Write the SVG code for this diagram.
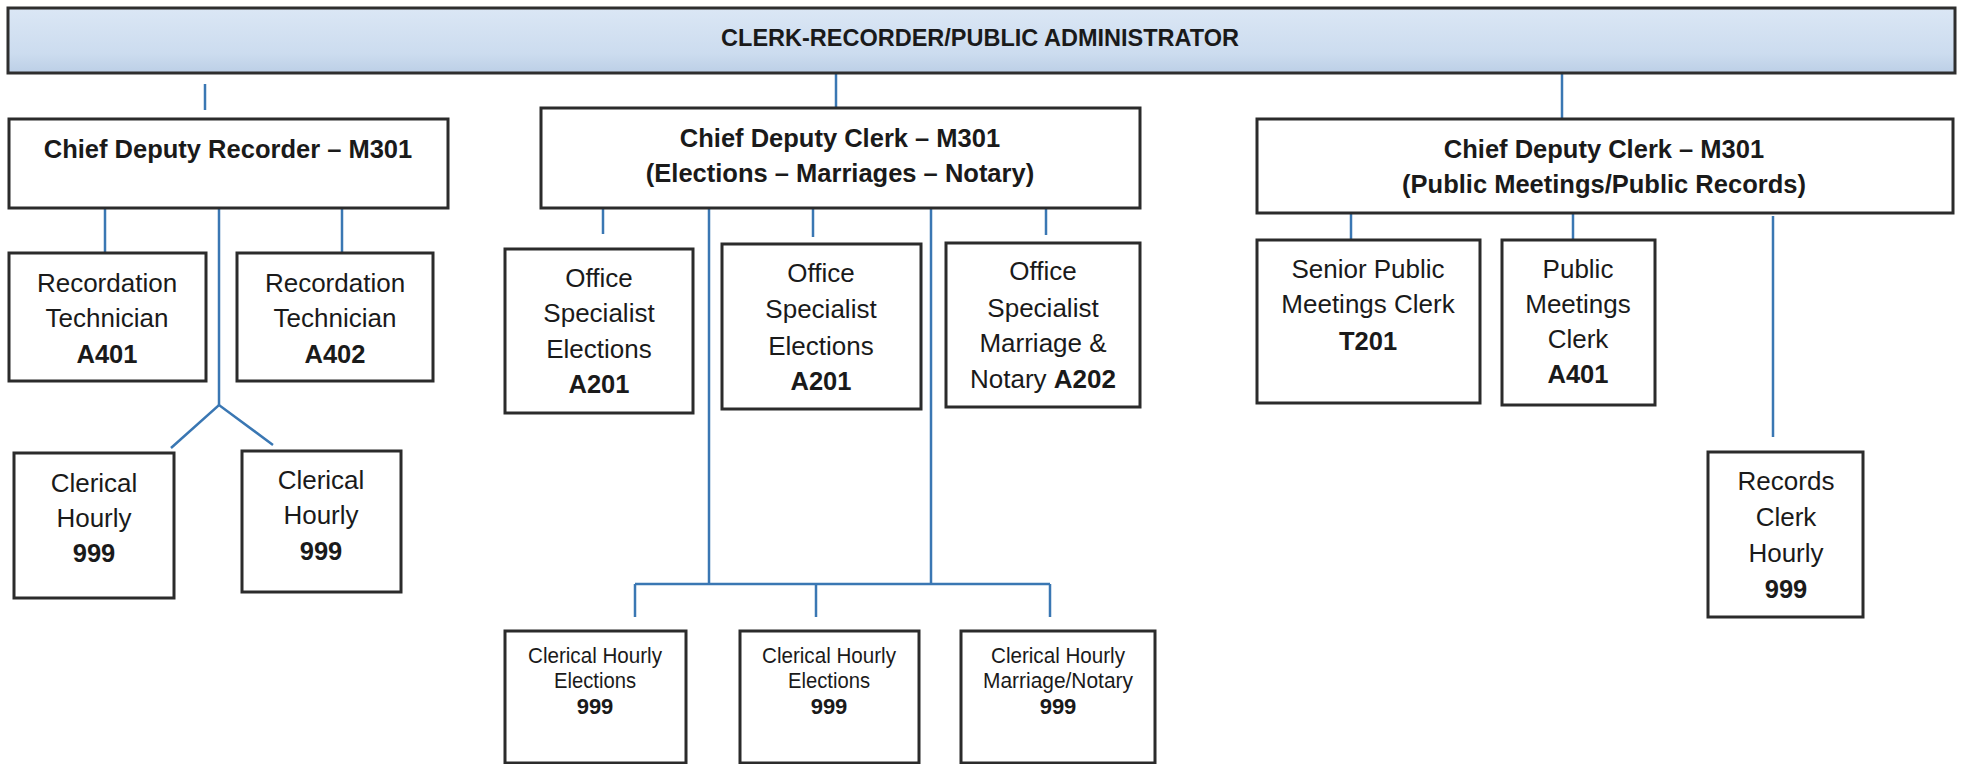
<svg xmlns="http://www.w3.org/2000/svg" width="1961" height="764" viewBox="0 0 1961 764">
  <style>
    .box { fill: #ffffff; stroke: #2b2b2b; stroke-width: 3; }
    .t { font-family: "Liberation Sans", Arial, sans-serif; fill: #1a1a1a; text-anchor: middle; }
    .r { font-size: 26px; }
    .b { font-size: 25.5px; font-weight: bold; }
    .s { font-size: 22px; }
    .sb { font-size: 22px; font-weight: bold; }
    .bold { font-weight: bold; }
    .title { font-size: 23.5px; font-weight: bold; }
    #connectors line, #connectors polyline { stroke: #3a77b3; stroke-width: 2.5; fill: none; }
  </style>
  <defs>
    <linearGradient id="bannerFill" x1="0" y1="0" x2="0" y2="1">
      <stop offset="0" stop-color="#dbe7f5"/>
      <stop offset="0.7" stop-color="#ccdcef"/>
      <stop offset="1" stop-color="#bccfe6"/>
    </linearGradient>
  </defs>

  <rect width="1961" height="764" fill="#ffffff"/>

  <!-- connectors -->
  <g id="connectors">
    <line x1="205" y1="84" x2="205" y2="110"/>
    <line x1="836" y1="73" x2="836" y2="108"/>
    <line x1="1562" y1="73" x2="1562" y2="119"/>

    <!-- recorder branch -->
    <line x1="105" y1="208" x2="105" y2="252"/>
    <line x1="342" y1="208" x2="342" y2="252"/>
    <line x1="219" y1="208" x2="219" y2="405"/>
    <polyline points="171,448 219,405 273,445"/>

    <!-- elections / marriages / notary branch -->
    <line x1="603" y1="208" x2="603" y2="234"/>
    <line x1="813" y1="208" x2="813" y2="237"/>
    <line x1="1046" y1="208" x2="1046" y2="235"/>
    <line x1="709" y1="208" x2="709" y2="584"/>
    <line x1="931" y1="208" x2="931" y2="584"/>
    <line x1="635" y1="584" x2="1050" y2="584"/>
    <line x1="635" y1="584" x2="635" y2="617"/>
    <line x1="816" y1="584" x2="816" y2="617"/>
    <line x1="1050" y1="584" x2="1050" y2="617"/>

    <!-- public meetings / records branch -->
    <line x1="1351" y1="213" x2="1351" y2="240"/>
    <line x1="1573" y1="213" x2="1573" y2="240"/>
    <line x1="1773" y1="216" x2="1773" y2="437"/>
  </g>

  <g id="head">
    <rect x="8" y="8" width="1947" height="65" fill="url(#bannerFill)" stroke="#2e2e2e" stroke-width="3"/>
    <text class="t title" x="980" y="46">CLERK-RECORDER/PUBLIC ADMINISTRATOR</text>
  </g>

  <g id="chief-deputy-recorder">
    <rect class="box" x="9" y="119" width="439" height="89"/>
    <text class="t b" x="228" y="158">Chief Deputy Recorder – M301</text>
  </g>

  <g id="recordation-tech-a401">
    <rect class="box" x="9" y="253" width="197" height="128"/>
    <text class="t r" x="107" y="292">Recordation</text>
    <text class="t r" x="107" y="327">Technician</text>
    <text class="t b" x="107" y="363">A401</text>
  </g>

  <g id="recordation-tech-a402">
    <rect class="box" x="237" y="253" width="196" height="128"/>
    <text class="t r" x="335" y="292">Recordation</text>
    <text class="t r" x="335" y="327">Technician</text>
    <text class="t b" x="335" y="363">A402</text>
  </g>

  <g id="recorder-clerical-1">
    <rect class="box" x="14" y="453" width="160" height="145"/>
    <text class="t r" x="94" y="492">Clerical</text>
    <text class="t r" x="94" y="527">Hourly</text>
    <text class="t b" x="94" y="562">999</text>
  </g>

  <g id="recorder-clerical-2">
    <rect class="box" x="242" y="451" width="159" height="141"/>
    <text class="t r" x="321" y="489">Clerical</text>
    <text class="t r" x="321" y="524">Hourly</text>
    <text class="t b" x="321" y="560">999</text>
  </g>

  <g id="chief-deputy-clerk-elections">
    <rect class="box" x="541" y="108" width="599" height="100"/>
    <text class="t b" x="840" y="147">Chief Deputy Clerk – M301</text>
    <text class="t b" x="840" y="182">(Elections – Marriages – Notary)</text>
  </g>

  <g id="office-specialist-1">
    <rect class="box" x="505" y="249" width="188" height="164"/>
    <text class="t r" x="599" y="287">Office</text>
    <text class="t r" x="599" y="322">Specialist</text>
    <text class="t r" x="599" y="358">Elections</text>
    <text class="t b" x="599" y="393">A201</text>
  </g>

  <g id="office-specialist-2">
    <rect class="box" x="722" y="244" width="199" height="165"/>
    <text class="t r" x="821" y="282">Office</text>
    <text class="t r" x="821" y="318">Specialist</text>
    <text class="t r" x="821" y="355">Elections</text>
    <text class="t b" x="821" y="390">A201</text>
  </g>

  <g id="office-specialist-3">
    <rect class="box" x="946" y="243" width="194" height="164"/>
    <text class="t r" x="1043" y="280">Office</text>
    <text class="t r" x="1043" y="317">Specialist</text>
    <text class="t r" x="1043" y="352">Marriage &amp;</text>
    <text class="t r" x="1043" y="388">Notary <tspan class="bold">A202</tspan></text>
  </g>

  <g id="clerical-elections-1">
    <rect class="box" x="505" y="631" width="181" height="132"/>
    <text class="t s" x="595" y="663" textLength="134" lengthAdjust="spacingAndGlyphs">Clerical Hourly</text>
    <text class="t s" x="595" y="688" textLength="82" lengthAdjust="spacingAndGlyphs">Elections</text>
    <text class="t sb" x="595" y="714">999</text>
  </g>

  <g id="clerical-elections-2">
    <rect class="box" x="740" y="631" width="179" height="132"/>
    <text class="t s" x="829" y="663" textLength="134" lengthAdjust="spacingAndGlyphs">Clerical Hourly</text>
    <text class="t s" x="829" y="688" textLength="82" lengthAdjust="spacingAndGlyphs">Elections</text>
    <text class="t sb" x="829" y="714">999</text>
  </g>

  <g id="clerical-marriage-notary">
    <rect class="box" x="961" y="631" width="194" height="132"/>
    <text class="t s" x="1058" y="663" textLength="134" lengthAdjust="spacingAndGlyphs">Clerical Hourly</text>
    <text class="t s" x="1058" y="688" textLength="150" lengthAdjust="spacingAndGlyphs">Marriage/Notary</text>
    <text class="t sb" x="1058" y="714">999</text>
  </g>

  <g id="chief-deputy-clerk-public">
    <rect class="box" x="1257" y="119" width="696" height="94"/>
    <text class="t b" x="1604" y="158">Chief Deputy Clerk – M301</text>
    <text class="t b" x="1604" y="193">(Public Meetings/Public Records)</text>
  </g>

  <g id="senior-public-meetings-clerk">
    <rect class="box" x="1257" y="240" width="223" height="163"/>
    <text class="t r" x="1368" y="278">Senior Public</text>
    <text class="t r" x="1368" y="313">Meetings Clerk</text>
    <text class="t b" x="1368" y="350">T201</text>
  </g>

  <g id="public-meetings-clerk">
    <rect class="box" x="1502" y="240" width="153" height="165"/>
    <text class="t r" x="1578" y="278">Public</text>
    <text class="t r" x="1578" y="313">Meetings</text>
    <text class="t r" x="1578" y="348">Clerk</text>
    <text class="t b" x="1578" y="383">A401</text>
  </g>

  <g id="records-clerk-hourly">
    <rect class="box" x="1708" y="452" width="155" height="165"/>
    <text class="t r" x="1786" y="490">Records</text>
    <text class="t r" x="1786" y="526">Clerk</text>
    <text class="t r" x="1786" y="562">Hourly</text>
    <text class="t b" x="1786" y="598">999</text>
  </g>
</svg>
